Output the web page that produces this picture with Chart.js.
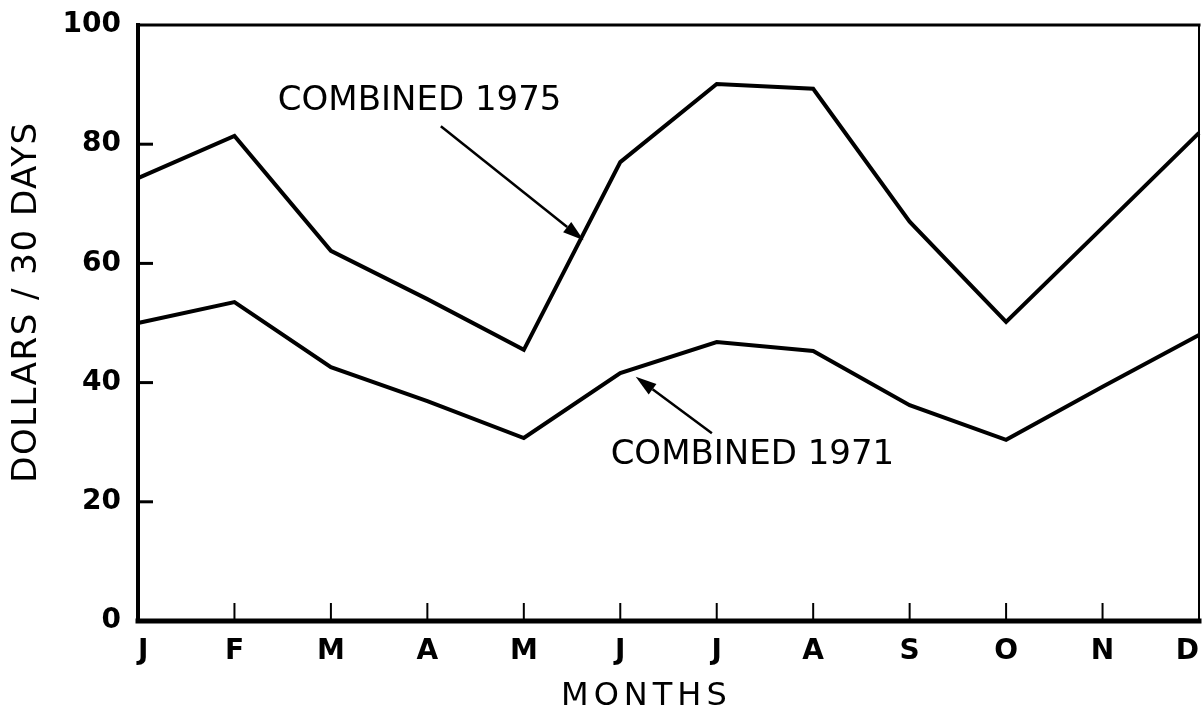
<!DOCTYPE html>
<html>
<head>
<meta charset="utf-8">
<script src="https://cdn.jsdelivr.net/npm/chart.js@4/dist/chart.umd.min.js"></script>
<style>
  html, body { margin: 0; padding: 0; background: #fff; }
  #wrap { width: 1202px; height: 711px; }
</style>
</head>
<body>
<div id="wrap"><canvas id="c" width="1202" height="711"></canvas></div>
<script>
const months = ['J', 'F', 'M', 'A', 'M', 'J', 'J', 'A', 'S', 'O', 'N', 'D'];
const combined1975 = [74.3, 81.4, 62.1, 54.0, 45.5, 77.0, 90.1, 89.3, 67.0, 50.2, 66.0, 81.9];
const combined1971 = [50.0, 53.5, 42.6, 36.9, 30.7, 41.6, 46.8, 45.3, 36.2, 30.4, 39.3, 48.0];
const yTickLabels = ['0', '20', '40', '60', '80', '100'];
const seriesNames = ['COMBINED 1975', 'COMBINED 1971'];
const xTitle = 'MONTHS';
const yTitle = 'DOLLARS / 30 DAYS';

// Annotation anchors in data space (category index, value)
const notes = [
  { text: seriesNames[0], tx: 1.45, ty: 87.2, from: [3.14, 83.0], to: [4.62, 63.9] },
  { text: seriesNames[1], tx: 4.90, ty: 27.9, from: [5.95, 31.5], to: [5.16, 41.0] }
];

const FONT = "'DejaVu Sans', 'Liberation Sans', sans-serif";

const framePlugin = {
  id: 'frame',
  afterDatasetsDraw(chart) {
    const { ctx, chartArea: a, scales } = chart;
    const x = scales.x, y = scales.y;
    ctx.save();
    ctx.strokeStyle = '#000';
    ctx.lineCap = 'square';
    const seg = (x1, y1, x2, y2, w) => {
      ctx.lineWidth = w;
      ctx.beginPath(); ctx.moveTo(x1, y1); ctx.lineTo(x2, y2); ctx.stroke();
    };
    seg(a.left, a.top, a.right, a.top, 3);
    seg(a.right, a.top, a.right, a.bottom, 2);
    seg(a.left, a.top, a.left, a.bottom, 4);
    seg(a.left, a.bottom, a.right, a.bottom, 5);
    ctx.lineCap = 'butt';
    y.ticks.forEach((t, i) => {
      if (t.value <= y.min || t.value >= y.max) return;
      const py = y.getPixelForTick(i);
      seg(a.left, py, a.left + 15, py, 3);
    });
    x.ticks.forEach((t, i) => {
      if (i === 0 || i === x.ticks.length - 1) return;
      const px = x.getPixelForTick(i);
      seg(px, a.bottom, px, a.bottom - 18, 2);
    });

    // annotations
    ctx.fillStyle = '#000';
    ctx.font = '34px ' + FONT;
    ctx.textAlign = 'left';
    ctx.textBaseline = 'middle';
    notes.forEach(n => {
      ctx.fillText(n.text, x.getPixelForValue(n.tx), y.getPixelForValue(n.ty));
      const x1 = x.getPixelForValue(n.from[0]), y1 = y.getPixelForValue(n.from[1]);
      const x2 = x.getPixelForValue(n.to[0]), y2 = y.getPixelForValue(n.to[1]);
      const ang = Math.atan2(y2 - y1, x2 - x1);
      const hl = 21, hw = 6.5;
      const bx = x2 - hl * Math.cos(ang), by = y2 - hl * Math.sin(ang);
      seg(x1, y1, bx, by, 2.5);
      ctx.beginPath();
      ctx.moveTo(x2, y2);
      ctx.lineTo(bx + hw * Math.sin(ang), by - hw * Math.cos(ang));
      ctx.lineTo(bx - hw * Math.sin(ang), by + hw * Math.cos(ang));
      ctx.closePath();
      ctx.fill();
    });

    // axis titles
    ctx.textAlign = 'center';
    ctx.textBaseline = 'middle';
    ctx.font = '32px ' + FONT;
    ctx.letterSpacing = '5px';
    ctx.fillText(xTitle, x.getPixelForValue(5.25) + 2, 697);
    ctx.letterSpacing = '1.5px';
    ctx.font = '34px ' + FONT;
    ctx.translate(27, y.getPixelForValue(53.5));
    ctx.rotate(-Math.PI / 2);
    ctx.fillText(yTitle, 0, 0);
    ctx.restore();
  }
};

new Chart(document.getElementById('c'), {
  type: 'line',
  data: {
    labels: months,
    datasets: [
      { label: seriesNames[0], data: combined1975 },
      { label: seriesNames[1], data: combined1971 }
    ]
  },
  options: {
    responsive: false,
    animation: false,
    devicePixelRatio: 1,
    layout: { padding: { left: 0, top: 25, right: 3, bottom: 0 } },
    elements: {
      line: { borderColor: '#000', borderWidth: 4, tension: 0, fill: false, borderJoinStyle: 'miter' },
      point: { radius: 0, hoverRadius: 0 }
    },
    plugins: { legend: { display: false }, tooltip: { enabled: false } },
    scales: {
      x: {
        type: 'category',
        offset: false,
        grid: { display: true, drawOnChartArea: false, drawTicks: true, tickLength: 14, tickColor: 'rgba(0,0,0,0)' },
        border: { display: false },
        ticks: {
          autoSkip: false, maxRotation: 0, minRotation: 0, align: 'inner',
          padding: 0, color: '#000', font: { family: FONT, size: 28, weight: 'bold' }
        },
        afterFit(s) { s.height = 90; }
      },
      y: {
        min: 0, max: 100,
        grid: { display: true, drawOnChartArea: false, drawTicks: true, tickLength: 17, tickColor: 'rgba(0,0,0,0)' },
        border: { display: false },
        ticks: {
          stepSize: 20, padding: 0, color: '#000',
          font: { family: FONT, size: 28, weight: 'bold' },
          callback: (v, i) => yTickLabels[i]
        },
        afterFit(s) { s.width = 138; }
      }
    }
  },
  plugins: [framePlugin]
});
</script>
</body>
</html>
